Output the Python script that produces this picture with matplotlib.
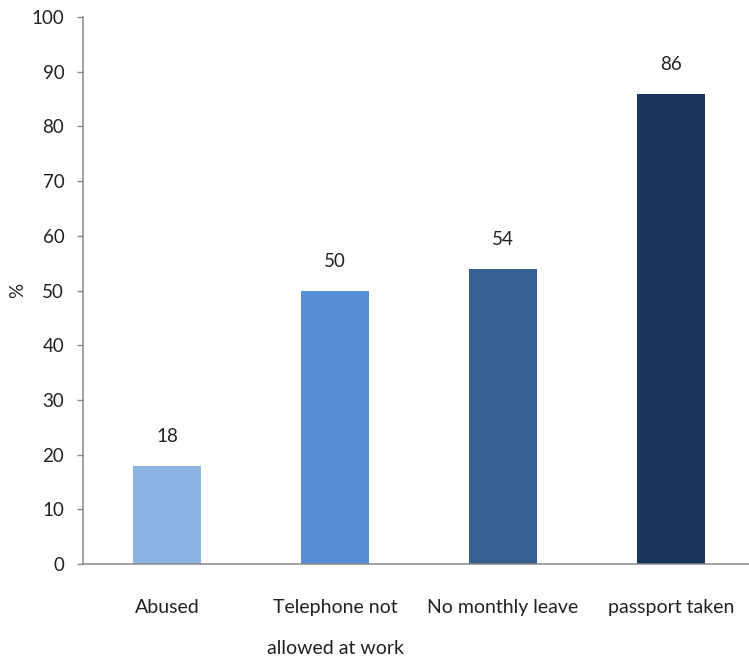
import matplotlib.pyplot as plt

categories = ["Abused", "Telephone not\nallowed at work", "No monthly leave", "passport taken"]
values = [18, 50, 54, 86]
colors = ["#8DB3E2", "#558ED5", "#376092", "#1B365D"]

plt.rcParams['font.family'] = ['Lato', 'DejaVu Sans']

fig = plt.figure(figsize=(7.49, 6.59), dpi=100)
ax = fig.add_axes([83/749, 95/659, 666/749, 547/659])

x = range(len(categories))
bars = ax.bar(x, values, width=0.4, color=colors)

for b, v in zip(bars, values):
    ax.annotate(str(v), (b.get_x() + b.get_width()/2, v), xytext=(0, 21),
                textcoords="offset points", ha="center", va="center",
                fontsize=13.5, color="#222222")

ax.set_xlim(-0.5, 3.464)
ax.set_ylim(0, 100)
ax.set_yticks(range(0, 101, 10))
ax.set_xticks(list(x))
ax.set_xticklabels(categories, fontsize=14, linespacing=2.75, color="#222222")
ax.tick_params(axis="y", labelsize=13.5, length=4.5, width=1, color="#888888",
               pad=9, labelcolor="#222222")
ax.tick_params(axis="x", length=0, pad=25)
ax.set_ylabel("%", fontsize=13.5, color="#222222", labelpad=4)

for s in ["top", "right"]:
    ax.spines[s].set_visible(False)
for s in ["left", "bottom"]:
    ax.spines[s].set_color("#888888")
    ax.spines[s].set_linewidth(1.1)

fig.savefig("out.png", dpi=100)
